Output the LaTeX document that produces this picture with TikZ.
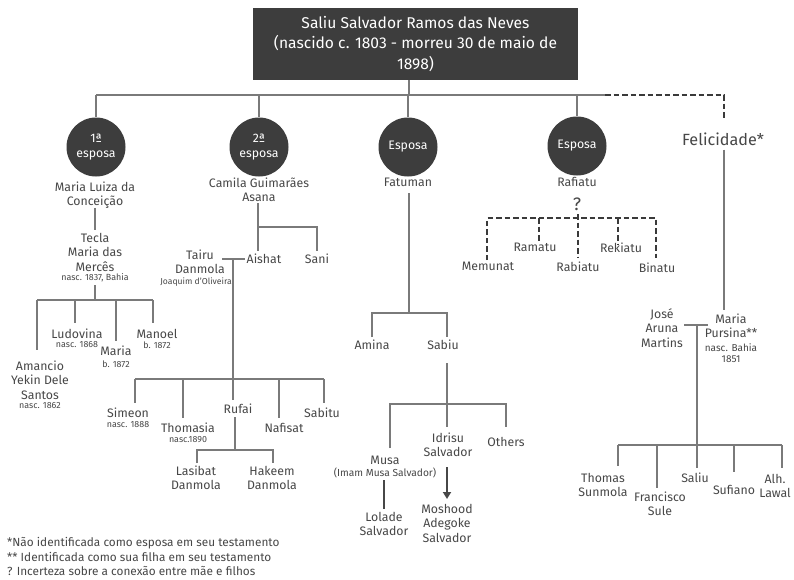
\documentclass[tikz,border=0pt]{standalone}
\usepackage{fontspec}
\setmainfont{Fira Sans}
\usetikzlibrary{arrows.meta}
\definecolor{boxc}{HTML}{3D3D3D}
\definecolor{txtc}{HTML}{474747}
\definecolor{linec}{HTML}{7A7A7A}
\definecolor{dashc}{HTML}{3A3A3A}
\tikzset{
  nm/.style={inner sep=0pt, align=center, text=txtc, font=\fontsize{12.3}{14.5}\selectfont},
  sm/.style={inner sep=0pt, align=center, text=txtc, font=\fontsize{10.2}{11.5}\selectfont},
  xs/.style={inner sep=0pt, align=center, text=txtc, font=\fontsize{8.9}{10}\selectfont},
  big/.style={inner sep=0pt, align=center, text=txtc, font=\fontsize{16.2}{18}\selectfont},
  wife/.style={circle, fill=boxc, minimum size=59pt, inner sep=0pt, align=center, text=white, font=\fontsize{12.3}{15}\selectfont},
  titlebox/.style={rectangle, fill=boxc, minimum width=325pt, minimum height=72pt, inner sep=0pt, align=center, text=white, font=\fontsize{15.6}{20.5}\selectfont},
  ln/.style={draw=linec, line width=1.1pt},
  dl/.style={draw=dashc, line width=2pt, dash pattern=on 5.5pt off 3pt},
  foot/.style={inner sep=0pt, anchor=west, text=txtc, font=\fontsize{11.8}{13}\selectfont}
}
\begin{document}
\begin{tikzpicture}[x=1pt,y=-1pt]
\useasboundingbox[fill=white] (0,0) rectangle (794,579);
% title
\node[titlebox] (title) at (415.5,44) {Saliu Salvador Ramos das Neves\\(nascido c. 1803 - morreu 30 de maio de\\1898)};
% wives
\node[wife] (w1) at (96,147) {1ª\\esposa};
\node[wife] (w2) at (259,147) {2ª\\esposa};
\node[wife] (w3) at (408,147) {Esposa};
\node[wife] (w4) at (577,146) {Esposa};
\node[big] (fel) at (723,139) {Felicidade*};
\node[nm] (mlc) at (95,195) {Maria Luiza da\\Conceição};
\node[nm] (cga) at (259,190) {Camila Guimarães\\Asana};
\node[nm] (fat) at (408,182) {Fatuman};
\node[nm] (raf) at (577,182) {Rafiatu};
\node[big,font=\fontsize{18}{18}\selectfont] (q) at (577,204) {?};
% branch 1
\node[nm] (tecla) at (95,252) {Tecla\\Maria das\\Mercês};
\node[xs] (teclan) at (95,278) {nasc. 1837, Bahia};
\node[nm] (amancio) at (40,380) {Amancio\\Yekin Dele\\Santos};
\node[xs] (amancion) at (40,406) {nasc. 1862};
\node[nm] (ludovina) at (77,334) {Ludovina};
\node[xs] (ludovinan) at (77,345) {nasc. 1868};
\node[nm] (maria) at (116,351) {Maria};
\node[xs] (marian) at (116,364) {b. 1872};
\node[nm] (manoel) at (157,334) {Manoel};
\node[xs] (manoeln) at (157,345) {b. 1872};
% branch 2
\node[nm] (tairu) at (200,262) {Tairu\\Danmola};
\node[xs,font=\fontsize{8.6}{9}\selectfont] (tairun) at (196,282) {Joaquim d'Oliveira};
\node[nm] (aishat) at (264,259) {Aishat};
\node[nm] (sani) at (317,259) {Sani};
\node[nm] (simeon) at (128,413) {Simeon};
\node[xs] (simeonn) at (128,425) {nasc. 1888};
\node[nm] (thomasia) at (188,428) {Thomasia};
\node[xs] (thomasian) at (188,440) {nasc.1890};
\node[nm] (rufai) at (238,409) {Rufai};
\node[nm] (nafisat) at (284,428) {Nafisat};
\node[nm] (sabitu) at (322,413) {Sabitu};
\node[nm] (lasibat) at (196,478) {Lasibat\\Danmola};
\node[nm] (hakeem) at (272,478) {Hakeem\\Danmola};
% branch 3
\node[nm] (amina) at (372,345) {Amina};
\node[nm] (sabiu) at (443,345) {Sabiu};
\node[nm] (musa) at (385,460) {Musa};
\node[sm] (imam) at (385,473) {(Imam Musa Salvador)};
\node[nm] (idrisu) at (448,445) {Idrisu\\Salvador};
\node[nm] (others) at (506,442) {Others};
\node[nm] (lolade) at (384,524) {Lolade\\Salvador};
\node[nm] (moshood) at (447,523) {Moshood\\Adegoke\\Salvador};
% branch 4
\node[nm] (memunat) at (488,266) {Memunat};
\node[nm] (ramatu) at (535,247) {Ramatu};
\node[nm] (rabiatu) at (578,267) {Rabiatu};
\node[nm] (rekiatu) at (621,248) {Rekiatu};
\node[nm] (binatu) at (657,268) {Binatu};
% branch 5
\node[nm] (jose) at (662,328) {José\\Aruna\\Martins};
\node[nm] (mariap) at (731,326) {Maria\\Pursina**};
\node[sm,font=\fontsize{10}{11.5}\selectfont] (mariapn) at (731,353) {nasc. Bahia\\1851};
\node[nm] (thomas) at (603,485) {Thomas\\Sunmola};
\node[nm] (francisco) at (660,504) {Francisco\\Sule};
\node[nm] (saliu) at (695,478) {Saliu};
\node[nm] (sufiano) at (734,490) {Sufiano};
\node[nm, anchor=east] (alh) at (791,486) {Alh.\\Lawal};
% footnotes
\node[foot] (f1) at (7,543) {*Não identificada como esposa em seu testamento};
\node[foot] (f2) at (7,557) {** Identificada como sua filha em seu testamento};
\node[foot] (f3) at (7,571) {? Incerteza sobre a conexão entre mãe e filhos};
% ---- connectors ----
\coordinate (busL) at (96,95);
\coordinate (busD) at (605,95);
\coordinate (busR) at (724,95);
\draw[ln] (title.south -| 409,0) -- (409,95);
\draw[ln] (busL) -- (busD);
\draw[dl] (busD) -- (busR) -- (724,118);
\draw[ln] (busL) -- (w1.north);
\draw[ln] (259,95) -- (w2.north);
\draw[ln] (408,95) -- (w3.north);
\draw[ln] (577,95) -- (w4.north);
% branch 1
\draw[ln] (95,208) -- (95,230);
\draw[ln] (95,285) -- (95,300);
\draw[ln] (37,300) -- (153,300);
\draw[ln] (37,300) -- (37,350);
\draw[ln] (75,300) -- (75,323);
\draw[ln] (116,300) -- (116,341);
\draw[ln] (153,300) -- (153,323);
% branch 2
\draw[ln] (258,203) -- (258,251);
\draw[ln] (258,227) -- (317,227) -- (317,251);
\draw[ln] (222,259) -- (245,259);
\draw[ln] (233,259) -- (233,379);
\draw[ln] (135,379) -- (324,379);
\draw[ln] (135,379) -- (135,403);
\draw[ln] (183,379) -- (183,418);
\draw[ln] (233,379) -- (233,400);
\draw[ln] (279,379) -- (279,418);
\draw[ln] (324,379) -- (324,403);
\draw[ln] (235,417) -- (235,450);
\draw[ln] (197,463) -- (197,450) -- (273,450) -- (273,463);
% branch 3
\draw[ln] (409,193) -- (409,313);
\draw[ln] (372,337) -- (372,313) -- (447,313) -- (447,337);
\draw[ln] (447,363) -- (447,404);
\draw[ln] (390,448) -- (390,404) -- (506,404) -- (506,427);
\draw[ln] (447,404) -- (447,427);
\draw[draw=txtc, line width=1.6pt] (384,480) -- (384,509);
\draw[draw=txtc, line width=2.2pt, -{Triangle[length=7pt,width=8pt]}] (447,467) -- (447,499);
% branch 4 (dashed)
\draw[dl] (487,260) -- (487,218) -- (656,218) -- (656,258);
\draw[dl] (539,218) -- (539,243);
\draw[dl] (578,214) -- (578,257);
\draw[dl] (618,218) -- (618,244);
% branch 5
\draw[ln] (fel.south -| 724,0) ++(0,4) -- (724,310);
\draw[ln] (684,325) -- (708,325);
\draw[ln] (697,325) -- (697,468);
\draw[ln] (618,445) -- (782,445);
\draw[ln] (618,445) -- (618,466);
\draw[ln] (657,445) -- (657,488);
\draw[ln] (734,445) -- (734,472);
\draw[ln] (782,445) -- (782,468);
\end{tikzpicture}
\end{document}
